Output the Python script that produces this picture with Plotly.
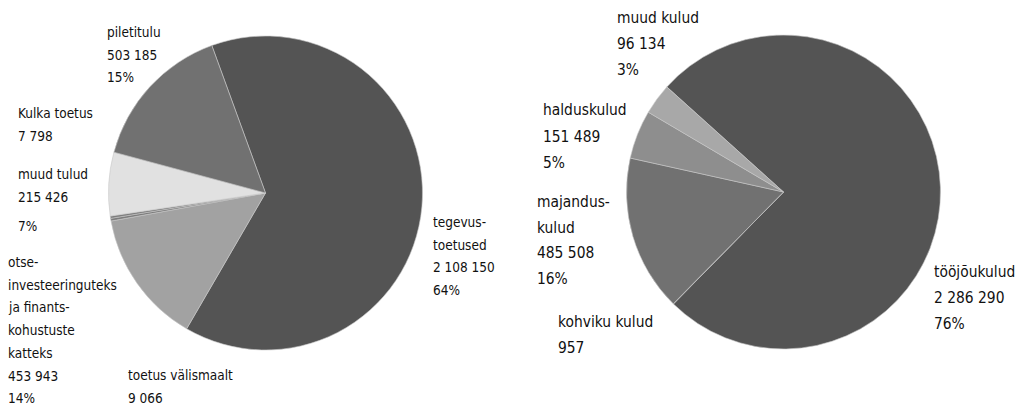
import plotly.graph_objects as go

W, H = 1028, 405

# ---- data: income (left) ----
inc_names = ["tegevustoetused", "otse-investeeringuteks ja finantskohustuste katteks",
             "toetus välismaalt", "Kulka toetus", "muud tulud", "piletitulu"]
inc_values = [2108150, 453943, 9066, 7798, 215426, 503185]

# ---- data: expenses (right) ----
exp_names = ["tööjõukulud", "kohviku kulud", "majanduskulud", "halduskulud", "muud kulud"]
exp_values = [2286290, 957, 485508, 151489, 96134]

# ---- styles ----
inc_colors = ["#545454", "#a2a2a2", "#7d7d7d", "#7d7d7d", "#e1e1e1", "#717171"]
exp_colors = ["#545454", "#6a6a6a", "#717171", "#8e8e8e", "#a8a8a8"]
FONT = "DejaVu Sans Condensed, DejaVu Sans, sans-serif"


def fmt(v):
    return f"{v:,}".replace(",", " ")


def pct(v, vals):
    return f"{round(100 * v / sum(vals))}%"


fig = go.Figure()


def dom(cx, cy, r):
    return dict(x=[(cx - r) / W, (cx + r) / W], y=[1 - (cy + r) / H, 1 - (cy - r) / H])


fig.add_trace(go.Pie(labels=inc_names, values=inc_values, sort=False, direction="clockwise",
                     rotation=340, textinfo="none", hoverinfo="label+value+percent",
                     marker=dict(colors=inc_colors, line=dict(color="#c8c8c8", width=0.6)),
                     domain=dom(265.5, 193, 157), showlegend=False))
fig.add_trace(go.Pie(labels=exp_names, values=exp_values, sort=False, direction="clockwise",
                     rotation=312, textinfo="none", hoverinfo="label+value+percent",
                     marker=dict(colors=exp_colors, line=dict(color="#c8c8c8", width=0.6)),
                     domain=dom(783.5, 192, 157), showlegend=False))

ann = []


def block(lines, x, ys, size):
    for t, y in zip(lines, ys):
        ann.append(dict(text=t, x=x / W, y=1 - y / H, xref="paper", yref="paper",
                        xanchor="left", yanchor="middle", showarrow=False, borderpad=0,
                        font=dict(family=FONT, size=size, color="#111111")))


def steps(y0, n, d):
    return [y0 + i * d for i in range(n)]


LS, RS = 13.5, 15.4
iv = dict(zip(inc_names, inc_values))
ev = dict(zip(exp_names, exp_values))

block(["piletitulu", fmt(iv["piletitulu"]), pct(iv["piletitulu"], inc_values)], 106, steps(32, 3, 22.7), LS)
block(["Kulka toetus", fmt(iv["Kulka toetus"])], 17, steps(113, 2, 22.5), LS)
block(["muud tulud", fmt(iv["muud tulud"])], 17, steps(174, 2, 23), LS)
block([pct(iv["muud tulud"], inc_values)], 17, [226], LS)
k = inc_names[1]
block(["otse-", "investeeringuteks", "ja finants-", "kohustuste", "katteks", fmt(iv[k]), pct(iv[k], inc_values)],
      7, steps(262, 7, 22.7), LS)
block(["toetus välismaalt", fmt(iv["toetus välismaalt"])], 127, steps(375, 2, 23), LS)
block(["tegevus-", "toetused", fmt(iv["tegevustoetused"]), pct(iv["tegevustoetused"], inc_values)],
      432, steps(222, 4, 22.5), LS)

block(["muud kulud", fmt(ev["muud kulud"]), pct(ev["muud kulud"], exp_values)], 616, steps(18, 3, 26), RS)
block(["halduskulud", fmt(ev["halduskulud"]), pct(ev["halduskulud"], exp_values)], 542, steps(110, 3, 26.5), RS)
block(["majandus-", "kulud", fmt(ev["majanduskulud"]), pct(ev["majanduskulud"], exp_values)],
      536, steps(202, 4, 25.7), RS)
block(["kohviku kulud", fmt(ev["kohviku kulud"])], 557, steps(322, 2, 26), RS)
block(["tööjõukulud", fmt(ev["tööjõukulud"]), pct(ev["tööjõukulud"], exp_values)], 933, steps(272, 3, 26), RS)

fig.update_layout(width=W, height=H, margin=dict(l=0, r=0, t=0, b=0),
                  paper_bgcolor="white", plot_bgcolor="white", annotations=ann)
fig.write_html("out.html", config={"displayModeBar": False},
               post_script="document.body.style.margin='0';")
